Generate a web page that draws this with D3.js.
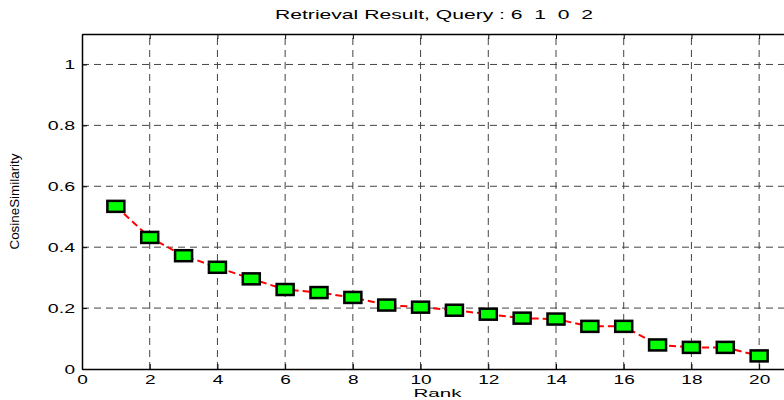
<!DOCTYPE html>
<html>
<head>
<meta charset="utf-8">
<script src="https://cdn.jsdelivr.net/npm/d3@7"></script>
<style>
  body { margin: 0; background: #fff; }
  svg { display: block; font-family: "Liberation Sans", Arial, sans-serif; }
</style>
</head>
<body>
<script>
// chart data
var ranks = [1, 2, 3, 4, 5, 6, 7, 8, 9, 10, 11, 12, 13, 14, 15, 16, 17, 18, 19, 20]
var similarity = [0.534, 0.432, 0.372, 0.334, 0.296, 0.261, 0.251, 0.235, 0.21, 0.203,
                  0.193, 0.18, 0.167, 0.164, 0.14, 0.14, 0.079, 0.071, 0.071, 0.043]
var xTicks = [0, 2, 4, 6, 8, 10, 12, 14, 16, 18, 20]
var yTicks = [0, 0.2, 0.4, 0.6, 0.8, 1]
var title = "Retrieval Result, Query : 6  1  0  2"

const width = 784, height = 400
const margin = {top: 34, left: 82, right: -9, bottom: 31}

var svg = d3.select("body").append("svg")
  .attr("width", width)
  .attr("height", height)

var x = d3.scaleLinear().domain([0, 21]).range([margin.left, width - margin.right])
var y = d3.scaleLinear().domain([0, 1.1]).range([height - margin.bottom, margin.top])

// the original font is a wide helvetica, stretch labels to the same width
function wideLength(s) {
  var w = 0
  for (var c of s) w += (c == "." ? 6 : 10.6)
  return w
}

// grid lines
svg.append("g").selectAll("line")
  .data(xTicks.slice(1))
  .enter().append("line")
  .attr("x1", d => x(d)).attr("x2", d => x(d))
  .attr("y1", y(0)).attr("y2", y(1.1))
  .attr("stroke", "#444").attr("stroke-width", 1)
  .attr("stroke-dasharray", "7,5")

svg.append("g").selectAll("line")
  .data(yTicks.slice(1))
  .enter().append("line")
  .attr("x1", x(0)).attr("x2", x(21))
  .attr("y1", d => y(d)).attr("y2", d => y(d))
  .attr("stroke", "#444").attr("stroke-width", 1)
  .attr("stroke-dasharray", "7,5")

// axes, matlab style ticks pointing inward
var xAxis = d3.axisBottom(x).tickValues(xTicks).tickSizeInner(-5).tickSizeOuter(0).tickPadding(6)
var yAxis = d3.axisLeft(y).tickValues(yTicks).tickSizeInner(-5).tickSizeOuter(0).tickPadding(7)
  .tickFormat(d => d === 0 || d === 1 ? d : d3.format(".1f")(d))

svg.append("g").attr("transform", "translate(0," + y(0) + ")").call(xAxis)
svg.append("g").attr("transform", "translate(" + x(0) + ",0)").call(yAxis)
svg.append("g").attr("transform", "translate(0," + y(1.1) + ")")
  .call(d3.axisTop(x).tickValues(xTicks).tickSizeInner(-5).tickSizeOuter(0).tickFormat(""))

svg.selectAll(".domain").attr("stroke", "#000").attr("stroke-width", 1.5)
svg.selectAll(".tick line").attr("stroke", "#000")
svg.selectAll(".tick text")
  .attr("font-size", 13)
  .attr("fill", "#000")
  .attr("font-family", "'Liberation Sans', Arial, sans-serif")
  .attr("textLength", function() { return wideLength(this.textContent) })
  .attr("lengthAdjust", "spacingAndGlyphs")

// labels
svg.append("text")
  .attr("x", 275).attr("y", 19)
  .attr("font-size", 13)
  .attr("textLength", 318)
  .attr("lengthAdjust", "spacingAndGlyphs")
  .style("white-space", "pre")
  .text(title)

svg.append("text")
  .attr("x", x(10.5)).attr("y", 397)
  .attr("text-anchor", "middle")
  .attr("font-size", 11)
  .attr("textLength", 48)
  .attr("lengthAdjust", "spacingAndGlyphs")
  .text("Rank")

svg.append("text")
  .attr("transform", "translate(19," + y(0.55) + ") rotate(-90)")
  .attr("text-anchor", "middle")
  .attr("font-size", 12)
  .attr("textLength", 96)
  .attr("lengthAdjust", "spacingAndGlyphs")
  .text("CosineSimilarity")

// data line
var data = ranks.map((r, i) => ({rank: r, value: similarity[i]}))

svg.append("path")
  .datum(data)
  .attr("fill", "none")
  .attr("stroke", "#ff0000")
  .attr("stroke-width", 2)
  .attr("stroke-dasharray", "7,4")
  .attr("d", d3.line().x(d => x(d.rank)).y(d => y(d.value)))

svg.append("g").selectAll("rect")
  .data(data)
  .enter().append("rect")
  .attr("x", d => x(d.rank) - 8.5)
  .attr("y", d => y(d.value) - 5.5)
  .attr("width", 17)
  .attr("height", 11)
  .attr("fill", "#00ff00")
  .attr("stroke", "#000")
  .attr("stroke-width", 2.5)
</script>
</body>
</html>
